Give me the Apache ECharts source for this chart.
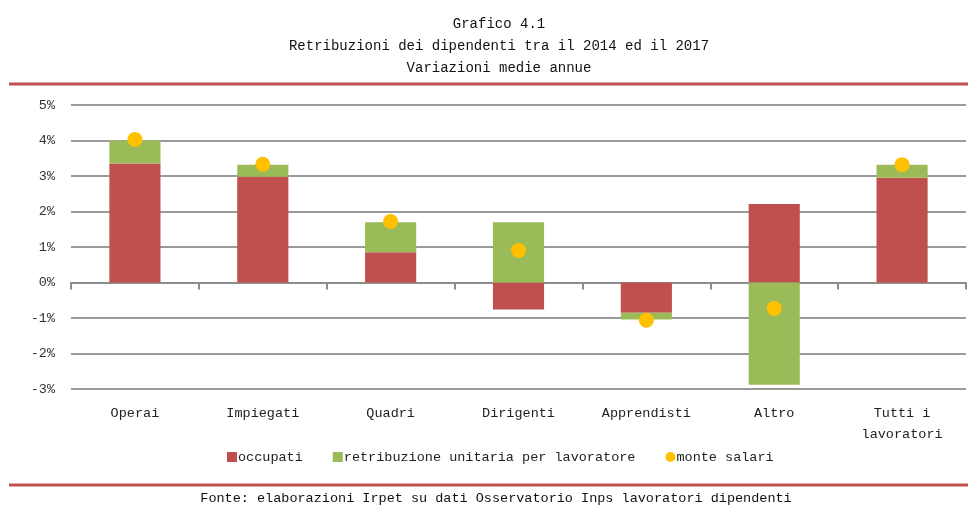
<!DOCTYPE html>
<html>
<head>
<meta charset="utf-8">
<script src="https://cdn.jsdelivr.net/npm/echarts@6/dist/echarts.min.js"></script>
<style>
  html, body { margin: 0; padding: 0; background: #fff; }
  #chart { width: 968px; height: 506px; }
</style>
</head>
<body>
<div id="chart"></div>
<script>
// categorie e valori (variazioni medie annue, %)
var categorie = ['Operai', 'Impiegati', 'Quadri', 'Dirigenti', 'Apprendisti', 'Altro', 'Tutti i\nlavoratori'];
var occupati = [3.35, 2.98, 0.85, -0.76, -0.85, 2.21, 2.95];
var retribuzione = [0.65, 0.34, 0.85, 1.70, -0.19, -2.88, 0.37];
var monteSalari = [4.03, 3.33, 1.72, 0.90, -1.06, -0.73, 3.32];

var fontFam = '"Liberation Mono", monospace';
var chart = echarts.init(document.getElementById('chart'));

var option = {
  backgroundColor: '#fff',
  animation: false,
  title: {
    text: 'Grafico 4.1\nRetribuzioni dei dipendenti tra il 2014 ed il 2017\nVariazioni medie annue',
    left: 494,
    top: 8,
    textAlign: 'center',
    textStyle: {
      fontFamily: fontFam,
      fontSize: 14,
      fontWeight: 'normal',
      color: '#111',
      lineHeight: 22
    }
  },
  grid: {
    left: 71,
    right: 2,
    top: 105,
    bottom: 117
  },
  legend: {
    bottom: 37,
    left: 222,
    itemWidth: 10,
    itemHeight: 10,
    itemGap: 30,
    textStyle: { fontFamily: fontFam, fontSize: 13.5, color: '#222', padding: [0, 0, 0, -4] },
    data: [
      { name: 'occupati', icon: 'rect' },
      { name: 'retribuzione unitaria per lavoratore', icon: 'rect' },
      { name: 'monte salari', icon: 'circle' }
    ]
  },
  xAxis: [
    {
      type: 'category',
      data: categorie,
      axisLine: { show: false, onZero: false },
      axisTick: { show: false },
      axisLabel: {
        fontFamily: fontFam,
        fontSize: 13.5,
        color: '#222',
        margin: 14,
        lineHeight: 21
      }
    },
    {
      type: 'category',
      data: categorie,
      position: 'bottom',
      axisLine: { onZero: true, lineStyle: { color: '#8c8c8c', width: 2 } },
      axisTick: { show: true, length: 7, lineStyle: { color: '#8c8c8c', width: 2 } },
      axisLabel: { show: false }
    }
  ],
  yAxis: {
    type: 'value',
    min: -3,
    max: 5,
    interval: 1,
    axisLine: { show: false },
    axisTick: { show: false },
    axisLabel: {
      formatter: '{value}%',
      fontFamily: fontFam,
      fontSize: 13.5,
      color: '#333',
      margin: 16
    },
    splitLine: { lineStyle: { color: '#9a9a9a', width: 2 } }
  },
  series: [
    {
      name: 'occupati',
      type: 'bar',
      stack: 'tot',
      barWidth: '40%',
      itemStyle: { color: '#c0504d' },
      data: occupati
    },
    {
      name: 'retribuzione unitaria per lavoratore',
      type: 'bar',
      stack: 'tot',
      barWidth: '40%',
      itemStyle: { color: '#9bbb59' },
      data: retribuzione
    },
    {
      name: 'monte salari',
      type: 'scatter',
      symbolSize: 15,
      itemStyle: { color: '#ffc000', opacity: 1 },
      z: 5,
      data: monteSalari
    }
  ],
  graphic: [
    {
      type: 'line',
      shape: { x1: 9, y1: 84, x2: 968, y2: 84 },
      style: { stroke: '#c0504d', lineWidth: 3 }
    },
    {
      type: 'line',
      shape: { x1: 9, y1: 485, x2: 968, y2: 485 },
      style: { stroke: '#c0504d', lineWidth: 3 }
    },
    {
      type: 'text',
      x: 496,
      y: 491,
      style: {
        text: 'Fonte: elaborazioni Irpet su dati Osservatorio Inps lavoratori dipendenti',
        fontFamily: fontFam,
        fontSize: 13.5,
        fill: '#111',
        textAlign: 'center',
        textVerticalAlign: 'top'
      }
    }
  ]
};

chart.setOption(option);
</script>
</body>
</html>
